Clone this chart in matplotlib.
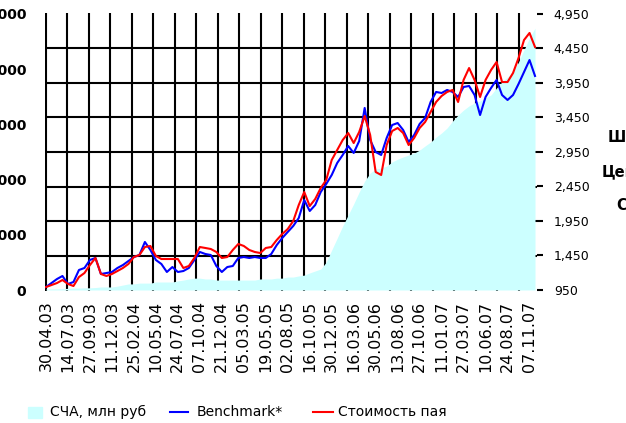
import matplotlib
matplotlib.use("Agg")
import matplotlib.pyplot as plt
from matplotlib.ticker import FixedLocator, FuncFormatter
from matplotlib.patches import Rectangle
from matplotlib.lines import Line2D

# ---------------- data ----------------
date_labels = ["30.04.03", "14.07.03", "27.09.03", "11.12.03", "25.02.04", "10.05.04",
               "24.07.04", "07.10.04", "21.12.04", "05.03.05", "19.05.05", "02.08.05",
               "16.10.05", "30.12.05", "16.03.06", "30.05.06", "13.08.06", "27.10.06",
               "11.01.07", "27.03.07", "10.06.07", "24.08.07", "07.11.07"]
points_per_label = 4

nav = [20, 20, 20, 25, 30, 35, 35, 40, 40, 45,
       55, 55, 55, 70, 90, 110, 110, 125, 125, 125,
       145, 145, 145, 145, 165, 180, 200, 215, 215, 200,
       200, 180, 180, 180, 180, 180, 180, 180, 180, 200,
       200, 200, 215, 215, 235, 235, 255, 270, 310, 345,
       380, 505, 725, 940, 1160, 1360, 1560, 1775, 1975, 2120,
       2190, 2210, 2245, 2320, 2370, 2410, 2445, 2480, 2535, 2610,
       2680, 2770, 2845, 2935, 3060, 3170, 3260, 3335, 3390, 3425,
       3480, 3535, 3660, 3770, 3860, 3950, 4130, 4350, 4565, 4745]

benchmark = [993, 1051, 1109, 1153, 1037, 1066, 1240, 1269, 1385, 1414,
             1182, 1196, 1211, 1269, 1312, 1370, 1428, 1457, 1646, 1530,
             1385, 1327, 1211, 1283, 1211, 1225, 1269, 1385, 1501, 1472,
             1457, 1298, 1211, 1283, 1298, 1414, 1428, 1414, 1428, 1414,
             1414, 1472, 1602, 1704, 1791, 1878, 1993, 2254, 2095, 2182,
             2370, 2486, 2617, 2791, 2907, 3037, 2936, 3109, 3588, 3124,
             2950, 2907, 3153, 3341, 3370, 3269, 3095, 3196, 3356, 3443,
             3675, 3820, 3805, 3849, 3820, 3747, 3892, 3907, 3776, 3486,
             3747, 3878, 3994, 3776, 3704, 3776, 3936, 4109, 4283, 4052]

unit_price = [993, 1022, 1051, 1095, 1037, 1008, 1138, 1196, 1312, 1414,
              1182, 1153, 1182, 1225, 1269, 1327, 1428, 1457, 1573, 1588,
              1443, 1399, 1399, 1399, 1399, 1269, 1298, 1414, 1573, 1559,
              1544, 1501, 1414, 1428, 1530, 1617, 1588, 1530, 1501, 1486,
              1559, 1573, 1675, 1762, 1834, 1950, 2182, 2370, 2167, 2269,
              2428, 2544, 2834, 2979, 3124, 3225, 3080, 3240, 3472, 3196,
              2660, 2617, 3051, 3254, 3298, 3225, 3051, 3153, 3298, 3385,
              3530, 3675, 3762, 3820, 3849, 3675, 3994, 4167, 3994, 3747,
              3994, 4138, 4254, 3964, 3964, 4095, 4312, 4573, 4675, 4472]

left_ticks = [0, 1000, 2000, 3000, 4000, 5000]
right_ticks = [950, 1450, 1950, 2450, 2950, 3450, 3950, 4450, 4950]

legend_labels = ["СЧА, млн руб", "Benchmark*", "Стоимость пая"]

# ---------------- figure ----------------
W, H = 626, 423
fig = plt.figure(figsize=(W / 100, H / 100), dpi=100)
ax = fig.add_axes([45 / W, 1 - 291 / H, (536.5 - 45) / W, (291 - 12.5) / H])

x = list(range(len(nav)))
fill_color = "#CCFFFF"
ax.fill_between(x, 0, nav, color=fill_color, lw=0, zorder=1)

ax.set_xlim(-0.18, len(nav) - 1 + 0.27)
ax.set_ylim(-18, 5027)

# major ticks: labels; minor ticks: gridlines
ax.xaxis.set_major_locator(FixedLocator([i * points_per_label for i in range(len(date_labels))]))
ax.set_xticklabels(date_labels, rotation=90, fontsize=11.5, va="top", ha="center")
grid_step_x = 3.913
ax.xaxis.set_minor_locator(FixedLocator([-0.05 + grid_step_x * j for j in range(23)]))
ax.yaxis.set_major_locator(FixedLocator(left_ticks))
ax.yaxis.set_major_formatter(FuncFormatter(lambda v, p: f"{int(v):,}".replace(",", " ")))
ax.yaxis.set_minor_locator(FixedLocator([625 * k for k in range(9)]))
ax.set_axisbelow(True)
ax.grid(which="minor", axis="both", color="black", lw=1.5)
ax.grid(which="major", visible=False)
ax.tick_params(which="both", length=0)
ax.tick_params(axis="x", pad=7, colors="black")
ax.tick_params(axis="y", pad=13.5, labelsize=10)
for lab in ax.get_yticklabels():
    lab.set_fontweight("bold")
for s in ax.spines.values():
    s.set_visible(False)

ax2 = ax.twinx()
l1, = ax2.plot(x, benchmark, color="#0000FF", lw=1.5, zorder=3)
l2, = ax2.plot(x, unit_price, color="#FF0000", lw=1.5, zorder=4)
ax2.set_ylim(935.5, 4971.7)
ax2.yaxis.set_major_locator(FixedLocator(right_ticks))
ax2.yaxis.set_major_formatter(FuncFormatter(lambda v, p: f"{int(v):,}"))
ax2.tick_params(axis="y", length=4, width=1.5, pad=8.5, labelsize=9, direction="out", colors="black")
for s in ax2.spines.values():
    s.set_visible(False)

# ---------------- legend (manual) ----------------
ly = 1 - 412 / H
fig.patches.append(Rectangle((28 / W, 1 - 418 / H), 14 / W, 11 / H, color=fill_color,
                             transform=fig.transFigure, figure=fig))
fig.text(50 / W, ly, legend_labels[0], va="center", ha="left", fontsize=10)
fig.lines.append(Line2D([170 / W, 188 / W], [ly, ly], color="#0000FF", lw=1.5,
                        transform=fig.transFigure, figure=fig))
fig.text(197 / W, ly, legend_labels[1], va="center", ha="left", fontsize=10)
fig.lines.append(Line2D([313 / W, 333 / W], [ly, ly], color="#FF0000", lw=1.5,
                        transform=fig.transFigure, figure=fig))
fig.text(338 / W, ly, legend_labels[2], va="center", ha="left", fontsize=10)

# text cut off at the right edge
fig.text(608 / W, 1 - 137 / H, "Ш", fontsize=10.5, fontweight="bold", va="center", ha="left")
fig.text(602 / W, 1 - 172 / H, "Цен", fontsize=10.5, fontweight="bold", va="center", ha="left")
fig.text(616 / W, 1 - 205 / H, "С", fontsize=10.5, fontweight="bold", va="center", ha="left")

fig.savefig("out.png", dpi=100)
